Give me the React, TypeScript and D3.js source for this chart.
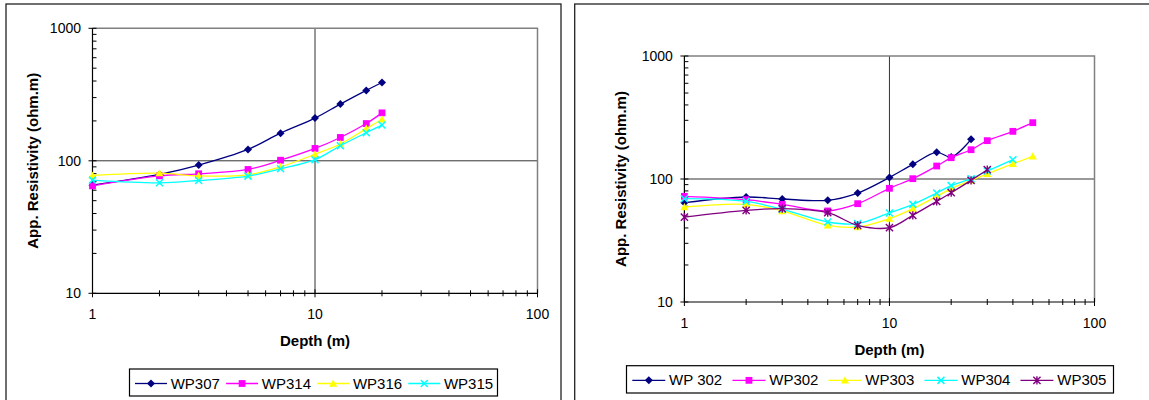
import React from "react";
import * as d3 from "d3";

// ---------- DATA ----------
const leftDepths = [1, 2, 3, 5, 7, 10, 13, 17, 20];
const wp307 = [65.5, 79, 92.8, 121.8, 161.7, 210, 268, 340, 390];
const wp314 = [64.7, 77, 79.8, 86, 101, 124, 150, 191, 230];
const wp316 = [77.5, 80.7, 77, 78.4, 90, 112, 134, 175, 206];
const wp315 = [71.5, 68.2, 71, 76.6, 87, 102, 130, 163, 186];

const rightDepths = [1, 2, 3, 5, 7, 10, 13, 17, 20, 25, 30, 40, 50];
const wp302a = [64.2, 71.4, 68.8, 67.1, 76.9, 103, 131.6, 164.7, 151, 210];
const wp302b = [72.3, 67.9, 62.2, 55, 63, 84, 100.6, 127.5, 149, 173, 205, 244, 287];
const wp303 = [59.2, 62.2, 55, 42, 40.7, 47.6, 57.4, 72.3, 83.4, 97.5, 110, 133, 153];
const wp304 = [69.2, 65.8, 56.7, 44.7, 43.4, 53, 62.2, 77, 88.3, 100.6, 116, 143.6];
const wp305 = [49, 55.6, 57.4, 53.2, 42, 40.2, 50.7, 65.8, 77.4, 97.5, 119];

const xTickLabels = [1, 10, 100];
const yTickLabels = [10, 100, 1000];
const xTitle = "Depth (m)";
const yTitle = "App. Resistivity (ohm.m)";

type Marker = "diamond" | "square" | "triangle" | "x" | "star";
interface Series { name: string; values: number[]; color: string; marker: Marker }

const leftSeries: Series[] = [
  { name: "WP307", values: wp307, color: "#000080", marker: "diamond" },
  { name: "WP314", values: wp314, color: "#FF00FF", marker: "square" },
  { name: "WP316", values: wp316, color: "#FFFF00", marker: "triangle" },
  { name: "WP315", values: wp315, color: "#00FFFF", marker: "x" },
];
const rightSeries: Series[] = [
  { name: "WP 302", values: wp302a, color: "#000080", marker: "diamond" },
  { name: "WP302", values: wp302b, color: "#FF00FF", marker: "square" },
  { name: "WP303", values: wp303, color: "#FFFF00", marker: "triangle" },
  { name: "WP304", values: wp304, color: "#00FFFF", marker: "x" },
  { name: "WP305", values: wp305, color: "#800080", marker: "star" },
];

const FONT = "'Liberation Sans', Arial, sans-serif";

function measure(text: string, font: string): number {
  if (typeof document === "undefined") return text.length * 8;
  const c = document.createElement("canvas");
  const ctx = c.getContext("2d");
  if (!ctx) return text.length * 8;
  ctx.font = font;
  return ctx.measureText(text).width;
}

function MarkerShape({ type, x, y, color }: { type: Marker; x: number; y: number; color: string }) {
  switch (type) {
    case "diamond": {
      const r = 4;
      return <path d={`M${x},${y - r}L${x + r},${y}L${x},${y + r}L${x - r},${y}Z`} fill={color} />;
    }
    case "square": {
      const s = 3.4;
      return <rect x={x - s} y={y - s} width={2 * s} height={2 * s} fill={color} />;
    }
    case "triangle": {
      const r = 4;
      return <path d={`M${x},${y - r}L${x + r},${y + r * 0.8}L${x - r},${y + r * 0.8}Z`} fill={color} />;
    }
    case "x": {
      const r = 3.5;
      return (
        <path d={`M${x - r},${y - r}L${x + r},${y + r}M${x - r},${y + r}L${x + r},${y - r}`} stroke={color} strokeWidth={1.5} fill="none" />
      );
    }
    case "star": {
      const r = 3.6;
      return (
        <path
          d={`M${x - r},${y - r}L${x + r},${y + r}M${x - r},${y + r}L${x + r},${y - r}M${x},${y - r - 0.5}L${x},${y + r + 0.5}`}
          stroke={color}
          strokeWidth={1.4}
          fill="none"
        />
      );
    }
  }
  return null;
}

interface Layout {
  panel: [number, number, number, number];
  plot: { left: number; right: number; top: number; bottom: number };
  legend: { x0: number; x1: number; y0: number; y1: number; start: number; lineLen: number; textOff: number; gap: number };
  yTitleX: number;
  xTitleY: number;
}

function Chart({ depths, series, layout }: { depths: number[]; series: Series[]; layout: Layout }) {
  const { plot, legend } = layout;
  const x = d3.scaleLog().domain([1, 100]).range([plot.left, plot.right]);
  const y = d3.scaleLog().domain([10, 1000]).range([plot.bottom, plot.top]);

  const line = d3
    .line<[number, number]>()
    .x((d) => x(d[0]))
    .y((d) => y(d[1]))
    .curve(d3.curveCatmullRom.alpha(0.5));

  const xMinor: number[] = [];
  const yMinor: number[] = [];
  for (let dec = 1; dec < 100; dec *= 10) for (let k = 2; k <= 9; k++) xMinor.push(k * dec);
  for (let dec = 10; dec < 1000; dec *= 10) for (let k = 2; k <= 9; k++) yMinor.push(k * dec);

  const legendFont = `15px ${FONT}`;
  let cursor = legend.start;
  const items = series.map((s) => {
    const pos = cursor;
    const w = measure(s.name, legendFont);
    cursor = pos + legend.textOff + w + legend.gap;
    return { s, pos };
  });
  const legendLineY = (legend.y0 + legend.y1) / 2 + 1;

  const [px0, py0, px1, py1] = layout.panel;

  return (
    <g>
      <rect x={px0} y={py0} width={px1 - px0} height={py1 - py0} fill="white" stroke="#222" strokeWidth={1.3} />
      {/* gridlines at major values */}
      <line x1={x(10)} x2={x(10)} y1={plot.top} y2={plot.bottom} stroke="#333" strokeWidth={1} />
      <line x1={plot.left} x2={plot.right} y1={y(100)} y2={y(100)} stroke="#333" strokeWidth={1} />
      {/* plot border top/right */}
      <path d={`M${plot.left},${plot.top}H${plot.right}V${plot.bottom}`} fill="none" stroke="#808080" strokeWidth={1.5} />
      {/* axes */}
      <line x1={plot.left} x2={plot.left} y1={plot.top} y2={plot.bottom} stroke="#000" strokeWidth={1.2} />
      <line x1={plot.left} x2={plot.right} y1={plot.bottom} y2={plot.bottom} stroke="#000" strokeWidth={1.2} />
      {xMinor.map((v) => (
        <line key={"xm" + v} x1={x(v)} x2={x(v)} y1={plot.bottom - 3} y2={plot.bottom + 3} stroke="#000" strokeWidth={1} />
      ))}
      {xTickLabels.map((v) => (
        <g key={"xt" + v}>
          <line x1={x(v)} x2={x(v)} y1={plot.bottom - 4} y2={plot.bottom + 4} stroke="#000" strokeWidth={1} />
          <text x={x(v)} y={plot.bottom + 26} textAnchor="middle" fontFamily={FONT} fontSize={14} fill="#000">
            {v}
          </text>
        </g>
      ))}
      {yMinor.map((v) => (
        <line key={"ym" + v} x1={plot.left} x2={plot.left + 4} y1={y(v)} y2={y(v)} stroke="#000" strokeWidth={1} />
      ))}
      {yTickLabels.map((v) => (
        <g key={"yt" + v}>
          <line x1={plot.left - 4} x2={plot.left + 4} y1={y(v)} y2={y(v)} stroke="#000" strokeWidth={1} />
          <text x={plot.left - 11.5} y={y(v)} dy="0.36em" textAnchor="end" fontFamily={FONT} fontSize={14} fill="#000">
            {v}
          </text>
        </g>
      ))}
      {/* series */}
      {series.map((s) => {
        const pts: [number, number][] = s.values.map((v, i) => [depths[i], v]);
        return (
          <g key={s.name}>
            <path d={line(pts) || ""} fill="none" stroke={s.color} strokeWidth={1.3} />
            {pts.map((p, i) => (
              <MarkerShape key={i} type={s.marker} x={x(p[0])} y={y(p[1])} color={s.color} />
            ))}
          </g>
        );
      })}
      {/* titles */}
      <text
        x={(plot.left + plot.right) / 2}
        y={layout.xTitleY}
        textAnchor="middle"
        fontFamily={FONT}
        fontWeight="bold"
        fontSize={15}
        fill="#000"
      >
        {xTitle}
      </text>
      <text
        transform={`translate(${layout.yTitleX},${(plot.top + plot.bottom) / 2}) rotate(-90)`}
        textAnchor="middle"
        fontFamily={FONT}
        fontWeight="bold"
        fontSize={15}
        fill="#000"
      >
        {yTitle}
      </text>
      {/* legend */}
      <rect x={legend.x0} y={legend.y0} width={legend.x1 - legend.x0} height={legend.y1 - legend.y0} fill="white" stroke="#000" strokeWidth={1.2} />
      {items.map(({ s, pos }) => (
        <g key={"lg" + s.name}>
          <line x1={pos} x2={pos + legend.lineLen} y1={legendLineY} y2={legendLineY} stroke={s.color} strokeWidth={1.3} />
          <MarkerShape type={s.marker} x={pos + legend.lineLen / 2} y={legendLineY} color={s.color} />
          <text x={pos + legend.textOff} y={legendLineY + 5} fontFamily={FONT} fontSize={15} fill="#000">
            {s.name}
          </text>
        </g>
      ))}
    </g>
  );
}

const leftLayout: Layout = {
  panel: [6, 4, 561, 420],
  plot: { left: 92.5, right: 537.5, top: 28.3, bottom: 293.3 },
  legend: { x0: 129.5, x1: 497.5, y0: 369, y1: 396, start: 135, lineLen: 32, textOff: 35.7, gap: 6.2 },
  yTitleX: 37.5,
  xTitleY: 346,
};
const rightLayout: Layout = {
  panel: [574.7, 4, 1160, 420],
  plot: { left: 684.4, right: 1094.5, top: 56, bottom: 302 },
  legend: { x0: 626.5, x1: 1113.5, y0: 365.7, y1: 393, start: 632.3, lineLen: 33, textOff: 36.8, gap: 10 },
  yTitleX: 626,
  xTitleY: 355,
};

export default function App() {
  return (
    <svg
      width={1149}
      height={400}
      style={{ position: "absolute", left: 0, top: 0, background: "white" }}
      xmlns="http://www.w3.org/2000/svg"
    >
      <rect x={0} y={0} width={1149} height={400} fill="white" />
      <Chart depths={leftDepths} series={leftSeries} layout={leftLayout} />
      <Chart depths={rightDepths} series={rightSeries} layout={rightLayout} />
    </svg>
  );
}
